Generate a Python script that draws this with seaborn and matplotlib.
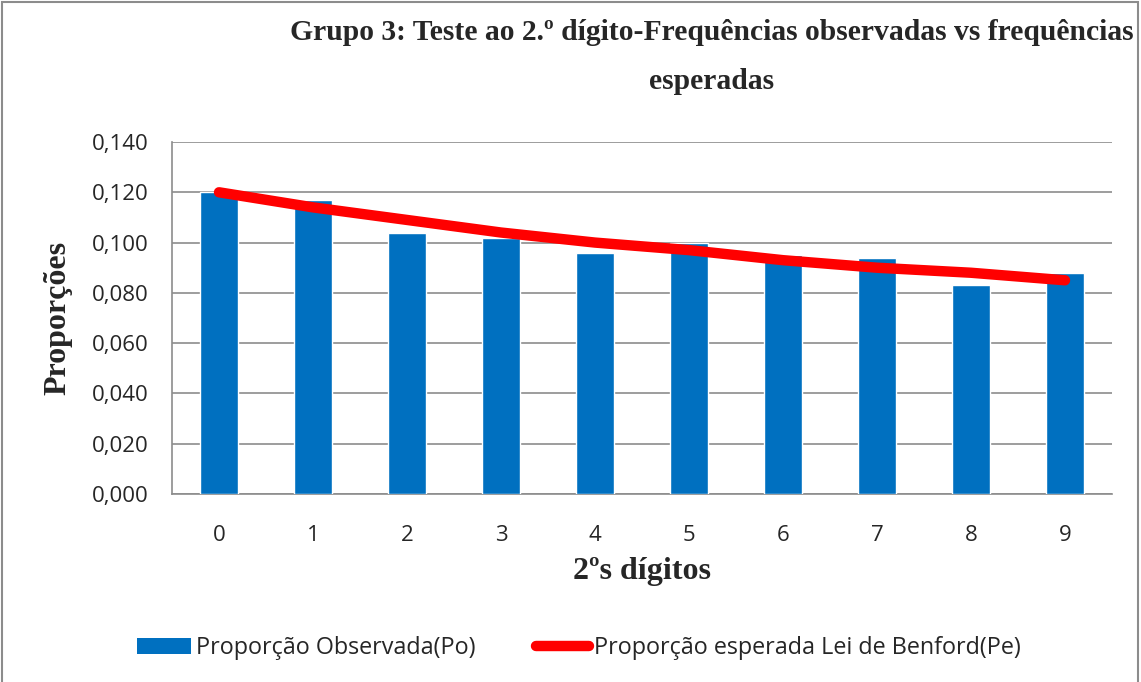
import seaborn as sns
import pandas as pd
import matplotlib.pyplot as plt
from matplotlib.patches import Rectangle, Patch
from matplotlib.lines import Line2D
from matplotlib.ticker import FuncFormatter, MultipleLocator, FixedLocator

digitos = [0, 1, 2, 3, 4, 5, 6, 7, 8, 9]
observada = [0.120, 0.117, 0.104, 0.102, 0.096, 0.100, 0.095, 0.094, 0.083, 0.088]
esperada = [0.120, 0.114, 0.109, 0.104, 0.100, 0.097, 0.093, 0.090, 0.088, 0.085]

titulo = "Grupo 3: Teste ao 2.º dígito-Frequências observadas vs frequências\nesperadas"
lbl_obs = "Proporção Observada(Po)"
lbl_esp = "Proporção esperada Lei de Benford(Pe)"

df = pd.DataFrame({"digito": digitos, "Po": observada, "Pe": esperada})

sns.set_style("white")
plt.rcParams['font.family'] = ['Open Sans', 'DejaVu Sans']

fig = plt.figure(figsize=(11.41, 6.82), dpi=100)
ax = fig.add_axes([172 / 1141, 1 - 494 / 682, 940 / 1141, 352 / 682])

sns.barplot(data=df, x="digito", y="Po", color="#0070C0", saturation=1,
            width=0.4, ax=ax, zorder=3)
sns.lineplot(x=list(range(len(digitos))), y=esperada, color="#FF0000",
             linewidth=7.5, ax=ax, zorder=4, solid_capstyle="round")

ax.set_xlim(-0.5, 9.5)
ax.set_ylim(0, 0.14)
ax.yaxis.set_major_locator(MultipleLocator(0.02))
ax.yaxis.set_major_formatter(FuncFormatter(lambda v, p: f"{v:.3f}".replace(".", ",")))
ax.grid(axis="y", color="#8c8c8c", linewidth=1.2, zorder=0)
ax.set_axisbelow(True)

for s in ["top", "right"]:
    ax.spines[s].set_visible(False)
for s in ["left", "bottom"]:
    ax.spines[s].set_color("#8c8c8c")
    ax.spines[s].set_linewidth(1.2)

ax.tick_params(axis="y", which="major", length=7, width=1.2, color="#8c8c8c",
               direction="out", labelsize=16, pad=10)
ax.tick_params(axis="x", which="major", length=0, labelsize=16, pad=22)
ax.xaxis.set_minor_locator(FixedLocator([i - 0.5 for i in range(11)]))
ax.tick_params(axis="x", which="minor", length=6, width=1.2, color="#8c8c8c",
               direction="out")

ax.set_xlabel("2ºs dígitos", fontfamily="Liberation Serif", fontweight="bold",
              fontsize=23, labelpad=8)
ax.set_ylabel("Proporções", fontfamily="Liberation Serif", fontweight="bold",
              fontsize=23, labelpad=14)

fig.text(712 / 1141, 1 - 57 / 682, titulo, ha="center", va="center",
         fontfamily="Liberation Serif", fontweight="bold", fontsize=21.3,
         linespacing=2.05)

handles = [Patch(facecolor="#0070C0", edgecolor="none"),
           Line2D([0], [0], color="#FF0000", linewidth=7.5, solid_capstyle="round")]
fig.legend(handles, [lbl_obs, lbl_esp], loc="center", ncol=2,
           bbox_to_anchor=(579 / 1141, 1 - 648 / 682), frameon=False,
           fontsize=16.8, handlelength=2.3, handletextpad=0.2, columnspacing=2.6)

fig.patches.append(Rectangle((2 / 1141, -0.01), 1136 / 1141, 1 - 2 / 682 + 0.01,
                             transform=fig.transFigure, fill=False,
                             edgecolor="#8c8c8c", linewidth=1.5))

fig.savefig("out.png", dpi=100)
